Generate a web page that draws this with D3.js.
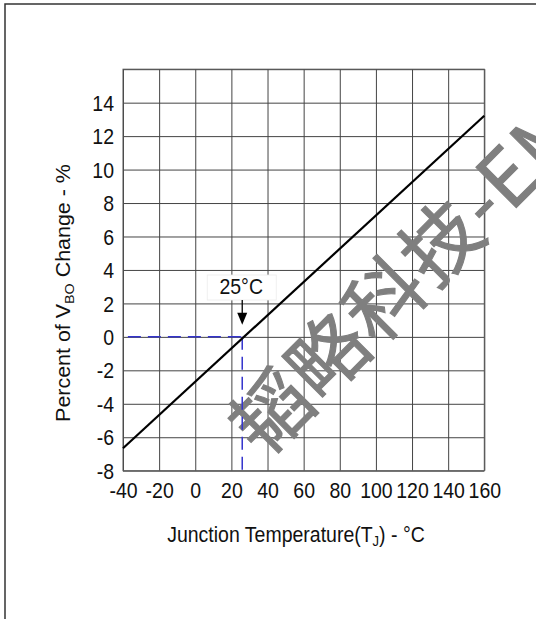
<!DOCTYPE html>
<html><head><meta charset="utf-8">
<script src="https://cdn.jsdelivr.net/npm/d3@7"></script>
<style>html,body{margin:0;padding:0;background:#fff;overflow:hidden}</style>
</head><body>
<svg id="c" width="536" height="619"></svg>
<script>
// ---- data ----
const tempTicks = [-40,-20,0,20,40,60,80,100,120,140,160];
const pctGrid   = [-8,-6,-4,-2,0,2,4,6,8,10,12,14,16];
const pctLabels = [-8,-6,-4,-2,0,2,4,6,8,10,12,14];
const lineTemp  = [-40,160];
const linePct   = [-6.66,13.22];
const refTemp   = 26;      // drawn position of the 25°C marker
const refPct    = 0;
const refLabel  = "25°C";
const watermark = "韬略科技-EMC";

const FONT = "'Liberation Sans', Arial, Helvetica, sans-serif";
const svg = d3.select("#c");
const x = d3.scaleLinear().domain([-40,160]).range([123,484.3]);
const y = d3.scaleLinear().domain([-8,16]).range([470.7,69.2]);
const pw = x.range()[1]-x.range()[0], ph = y.range()[0]-y.range()[1];

// outer frame
svg.append("rect").attr("x",5).attr("y",4).attr("width",700).attr("height",800)
  .attr("fill","none").attr("stroke","#333").attr("stroke-width",1.5);

const gridColor = "#444";
// horizontal grid + y labels
const ga = svg.append("g").attr("transform",`translate(${x.range()[0]},0)`)
  .call(d3.axisLeft(y).tickValues(pctGrid).tickSize(-pw).tickSizeOuter(0).tickPadding(9)
     .tickFormat(d=>pctLabels.includes(d)?String(d):""));
ga.select(".domain").remove();
ga.selectAll("line").attr("stroke",gridColor).attr("stroke-width",1);
ga.selectAll("text").attr("font-family",FONT).attr("font-size",19.5).attr("fill","#111")
  .attr("dy",null).attr("transform","translate(0,7.6) scale(1,1.1)");

// vertical grid + x labels
const gb = svg.append("g").attr("transform",`translate(0,${y.range()[0]})`)
  .call(d3.axisBottom(x).tickValues(tempTicks).tickSize(-ph).tickSizeOuter(0).tickFormat(d=>String(d)));
gb.select(".domain").remove();
gb.selectAll("line").attr("stroke",gridColor).attr("stroke-width",1);
gb.selectAll("text").attr("font-family",FONT).attr("font-size",19.5).attr("fill","#111")
  .attr("y",null).attr("dy",null).attr("transform","translate(0,27.3) scale(1,1.1)");

// plot border
svg.append("rect").attr("x",x.range()[0]).attr("y",y.range()[1]).attr("width",pw).attr("height",ph)
  .attr("fill","none").attr("stroke","#555").attr("stroke-width",1);

// watermark
svg.append("text").attr("font-family","'Noto Sans CJK SC', sans-serif")
  .attr("font-size",78).attr("letter-spacing",2).attr("fill","#7f7f7f")
  .attr("stroke","#7f7f7f").attr("stroke-width",1.1).attr("stroke-linejoin","miter")
  .attr("transform","translate(264,460) rotate(-45)").text(watermark);

// dashed reference lines
svg.append("path")
  .attr("d",`M${x(-37.3)},${y(refPct)}H${x(refTemp)}`)
  .attr("fill","none").attr("stroke","#3434cc").attr("stroke-width",1.5).attr("stroke-dasharray","13,7");
svg.append("path")
  .attr("d",`M${x(refTemp)},${y(refPct)}V${y(-8)}`)
  .attr("fill","none").attr("stroke","#3434cc").attr("stroke-width",1.5).attr("stroke-dasharray","13,7");

// main line
const pts = lineTemp.map((t,i)=>[t,linePct[i]]);
svg.append("path").datum(pts)
  .attr("d",d3.line().x(d=>x(d[0])).y(d=>y(d[1])))
  .attr("fill","none").attr("stroke","#000").attr("stroke-width",2.2);

// label box + arrow
const cx = x(refTemp), tipY = y(refPct)-12;
svg.append("rect").attr("x",cx-35).attr("y",275).attr("width",69).attr("height",25)
  .attr("fill","#fff").attr("stroke","#ececec").attr("stroke-width",0.8);
svg.append("text").attr("x",cx-1).attr("y",0).attr("text-anchor","middle")
  .attr("font-family",FONT).attr("font-size",19.5).attr("fill","#111")
  .attr("transform","translate(0,294) scale(1,1.1)").text(refLabel);
svg.append("line").attr("x1",cx).attr("x2",cx).attr("y1",300).attr("y2",tipY-10)
  .attr("stroke","#000").attr("stroke-width",1.3);
svg.append("path").attr("d",`M${cx-5},${tipY-12}L${cx+5},${tipY-12}L${cx},${tipY}Z`).attr("fill","#000");

// axis titles
const yl = svg.append("text").attr("font-family",FONT).attr("font-size",19.5).attr("fill","#111")
  .attr("text-anchor","middle").attr("transform","translate(70,293) scale(1,1.1) rotate(-90)");
yl.append("tspan").text("Percent of V");
yl.append("tspan").attr("font-size",13).attr("dy",4).text("BO");
yl.append("tspan").attr("dy",-4).text(" Change - %");

const xl = svg.append("text").attr("font-family",FONT).attr("font-size",19.5).attr("fill","#111")
  .attr("text-anchor","middle").attr("transform","translate(296,541.5) scale(1,1.1)");
xl.append("tspan").text("Junction Temperature(T");
xl.append("tspan").attr("font-size",13).attr("dy",4).text("J");
xl.append("tspan").attr("dy",-4).text(") - °C");
</script>
</body></html>
